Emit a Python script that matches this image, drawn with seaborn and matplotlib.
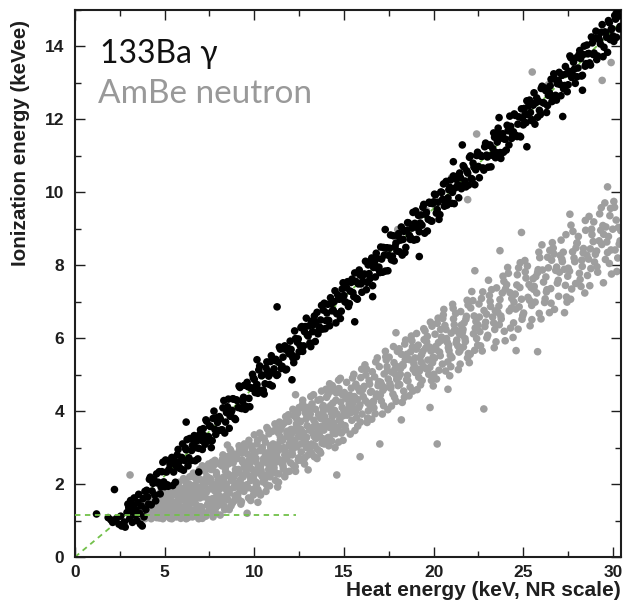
import matplotlib
matplotlib.use("Agg")
import matplotlib.pyplot as plt
import pandas as pd
import seaborn as sns
from matplotlib.ticker import MultipleLocator

# ---------------- data ----------------
# 133Ba gamma band (main body, first pass)
gamma_x = [
    4.0, 4.1, 4.2, 4.3, 4.4, 4.5, 4.6, 4.7, 4.8, 4.9, 5.0, 5.1, 5.2, 5.3, 5.4, 5.5, 5.6, 5.7, 5.8, 5.9,
    6.0, 6.1, 6.2, 6.3, 6.4, 6.5, 6.6, 6.7, 6.8, 6.9, 7.0, 7.1, 7.2, 7.3, 7.4, 7.5, 7.6, 7.7, 7.8, 7.9,
    8.0, 8.1, 8.2, 8.3, 8.4, 8.5, 8.6, 8.7, 8.8, 8.9, 9.0, 9.1, 9.2, 9.3, 9.4, 9.5, 9.6, 9.7, 9.8, 9.9,
    10.0, 10.1, 10.2, 10.3, 10.4, 10.5, 10.6, 10.7, 10.8, 10.9, 11.0, 11.1, 11.2, 11.3, 11.4, 11.5, 11.6, 11.7, 11.8, 11.9,
    12.0, 12.1, 12.2, 12.3, 12.4, 12.5, 12.6, 12.7, 12.8, 12.9, 13.0, 13.1, 13.2, 13.3, 13.4, 13.5, 13.6, 13.7, 13.8, 13.9,
    14.0, 14.1, 14.2, 14.3, 14.4, 14.5, 14.6, 14.7, 14.8, 14.9, 15.0, 15.1, 15.2, 15.3, 15.4, 15.5, 15.6, 15.7, 15.8, 15.9,
    16.0, 16.1, 16.2, 16.3, 16.4, 16.5, 16.6, 16.7, 16.8, 16.9, 17.0, 17.1, 17.2, 17.3, 17.4, 17.5, 17.6, 17.7, 17.8, 17.9,
    18.0, 18.1, 18.2, 18.3, 18.4, 18.5, 18.6, 18.7, 18.8, 18.9, 19.0, 19.1, 19.2, 19.3, 19.4, 19.5, 19.6, 19.7, 19.8, 19.9,
    20.0, 20.1, 20.2, 20.3, 20.4, 20.5, 20.6, 20.7, 20.8, 20.9, 21.0, 21.1, 21.2, 21.3, 21.4, 21.5, 21.6, 21.7, 21.8, 21.9,
    22.0, 22.1, 22.2, 22.3, 22.4, 22.5, 22.6, 22.7, 22.8, 22.9, 23.0, 23.1, 23.2, 23.3, 23.4, 23.5, 23.6, 23.7, 23.8, 23.9,
    24.0, 24.1, 24.2, 24.3, 24.4, 24.5, 24.6, 24.7, 24.8, 24.9, 25.0, 25.1, 25.2, 25.3, 25.4, 25.5, 25.6, 25.7, 25.8, 25.9,
    26.0, 26.1, 26.2, 26.3, 26.4, 26.5, 26.6, 26.7, 26.8, 26.9, 27.0, 27.1, 27.2, 27.3, 27.4, 27.5, 27.6, 27.7, 27.8, 27.9,
    28.0, 28.1, 28.2, 28.3, 28.4, 28.5, 28.6, 28.7, 28.8, 28.9, 29.0, 29.1, 29.2, 29.3, 29.4, 29.5, 29.6, 29.7, 29.8, 29.9,
    30.0, 30.1, 30.2, 30.3, 30.4]
gamma_y = [
    1.83, 1.45, 2.19, 1.81, 2.13, 1.54, 2.03, 2.34, 1.92, 2.60, 1.93, 2.33, 1.94, 2.54, 2.73, 2.33, 2.05, 2.80, 2.60, 2.42,
    3.10, 2.65, 2.94, 2.50, 3.25, 2.92, 3.22, 2.64, 3.19, 2.98, 3.49, 2.95, 3.33, 3.76, 3.18, 3.60, 3.00, 3.80, 3.50, 3.82,
    3.47, 3.79, 3.49, 4.29, 3.70, 4.12, 3.53, 3.96, 4.34, 3.80, 4.31, 4.10, 4.65, 4.07, 4.38, 4.05, 4.79, 4.35, 4.64, 5.01,
    4.87, 4.69, 4.49, 5.24, 4.97, 4.57, 4.75, 5.35, 4.96, 5.36, 4.69, 5.16, 5.42, 5.00, 5.76, 5.17, 5.48, 5.79, 5.15, 5.72,
    5.92, 5.54, 5.33, 5.99, 5.89, 5.63, 6.29, 5.64, 6.18, 6.55, 6.06, 5.87, 6.47, 6.37, 5.91, 6.71, 6.22, 6.50, 6.25, 6.96,
    6.48, 6.93, 6.34, 6.94, 6.77, 7.30, 6.67, 7.08, 6.54, 7.35, 7.17, 6.99, 7.55, 6.95, 7.53, 7.25, 7.79, 7.09, 7.49, 7.73,
    7.26, 7.75, 8.11, 7.53, 7.77, 8.10, 7.44, 8.08, 8.33, 7.91, 7.80, 8.17, 8.49, 7.84, 8.48, 8.27, 8.83, 8.25, 8.12, 8.61,
    8.81, 8.37, 9.05, 8.71, 8.35, 8.96, 9.16, 8.71, 9.02, 8.69, 9.49, 9.03, 8.92, 9.38, 9.59, 8.88, 9.45, 9.26, 9.70, 9.21,
    9.74, 9.93, 9.53, 9.26, 10.01, 9.81, 9.62, 10.30, 9.85, 10.14, 9.70, 10.45, 10.12, 10.43, 9.85, 10.40, 10.18, 10.69, 10.15, 10.53,
    10.96, 10.38, 10.80, 10.21, 11.01, 10.71, 11.02, 10.99, 10.61, 11.35, 10.97, 11.29, 10.70, 11.20, 11.51, 11.09, 11.76, 11.09, 11.49, 11.10,
    11.46, 11.84, 11.30, 11.81, 11.60, 12.15, 11.56, 11.87, 11.54, 12.29, 11.85, 12.14, 12.51, 12.37, 12.19, 11.99, 12.73, 12.46, 12.06, 12.25,
    12.85, 12.46, 12.86, 12.19, 12.66, 12.92, 12.49, 13.25, 12.66, 12.98, 13.29, 12.65, 13.22, 12.93, 13.25, 12.95, 13.74, 13.15, 13.57, 12.99,
    13.17, 13.77, 13.67, 13.21, 14.01, 13.53, 13.80, 13.55, 14.26, 13.78, 14.23, 13.64, 14.24, 14.07, 14.60, 13.98, 14.38, 13.84, 14.65, 14.47,
    14.29, 14.85, 14.25, 14.83, 14.55]

# 133Ba gamma band (second pass, in between)
gamma2_x = [
    4.05, 4.15, 4.25, 4.35, 4.45, 4.55, 4.65, 4.75, 4.85, 4.95, 5.05, 5.15, 5.25, 5.35, 5.45, 5.55, 5.65, 5.75, 5.85, 5.95,
    6.05, 6.15, 6.25, 6.35, 6.45, 6.55, 6.65, 6.75, 6.85, 6.95, 7.05, 7.15, 7.25, 7.35, 7.45, 7.55, 7.65, 7.75, 7.85, 7.95,
    8.05, 8.15, 8.25, 8.35, 8.45, 8.55, 8.65, 8.75, 8.85, 8.95, 9.05, 9.15, 9.25, 9.35, 9.45, 9.55, 9.65, 9.75, 9.85, 9.95,
    10.05, 10.15, 10.25, 10.35, 10.45, 10.55, 10.65, 10.75, 10.85, 10.95, 11.05, 11.15, 11.25, 11.35, 11.45, 11.55, 11.65, 11.75, 11.85, 11.95,
    12.05, 12.15, 12.25, 12.35, 12.45, 12.55, 12.65, 12.75, 12.85, 12.95, 13.05, 13.15, 13.25, 13.35, 13.45, 13.55, 13.65, 13.75, 13.85, 13.95,
    14.05, 14.15, 14.25, 14.35, 14.45, 14.55, 14.65, 14.75, 14.85, 14.95, 15.05, 15.15, 15.25, 15.35, 15.45, 15.55, 15.65, 15.75, 15.85, 15.95,
    16.05, 16.15, 16.25, 16.35, 16.45, 16.55, 16.65, 16.75, 16.85, 16.95, 17.05, 17.15, 17.25, 17.35, 17.45, 17.55, 17.65, 17.75, 17.85, 17.95,
    18.05, 18.15, 18.25, 18.35, 18.45, 18.55, 18.65, 18.75, 18.85, 18.95, 19.05, 19.15, 19.25, 19.35, 19.45, 19.55, 19.65, 19.75, 19.85, 19.95,
    20.05, 20.15, 20.25, 20.35, 20.45, 20.55, 20.65, 20.75, 20.85, 20.95, 21.05, 21.15, 21.25, 21.35, 21.45, 21.55, 21.65, 21.75, 21.85, 21.95,
    22.05, 22.15, 22.25, 22.35, 22.45, 22.55, 22.65, 22.75, 22.85, 22.95, 23.05, 23.15, 23.25, 23.35, 23.45, 23.55, 23.65, 23.75, 23.85, 23.95,
    24.05, 24.15, 24.25, 24.35, 24.45, 24.55, 24.65, 24.75, 24.85, 24.95, 25.05, 25.15, 25.25, 25.35, 25.45, 25.55, 25.65, 25.75, 25.85, 25.95,
    26.05, 26.15, 26.25, 26.35, 26.45, 26.55, 26.65, 26.75, 26.85, 26.95, 27.05, 27.15, 27.25, 27.35, 27.45, 27.55, 27.65, 27.75, 27.85, 27.95,
    28.05, 28.15, 28.25, 28.35, 28.45, 28.55, 28.65, 28.75, 28.85, 28.95, 29.05, 29.15, 29.25, 29.35, 29.45, 29.55, 29.65, 29.75, 29.85, 29.95,
    30.05, 30.15, 30.25, 30.35]
gamma2_y = [
    1.65, 2.13, 1.43, 2.02, 1.70, 2.28, 2.05, 1.73, 2.34, 2.06, 2.66, 1.98, 2.41, 2.63, 1.96, 2.64, 2.49, 2.95, 2.43, 2.73,
    2.38, 2.99, 3.22, 2.72, 2.64, 3.06, 3.33, 3.00, 2.69, 3.36, 3.20, 3.52, 3.09, 3.72, 3.30, 3.58, 3.19, 4.00, 3.36, 3.69,
    3.85, 3.48, 4.09, 3.40, 3.96, 4.33, 3.86, 4.02, 4.33, 3.77, 4.29, 4.69, 4.08, 4.26, 4.71, 4.13, 4.67, 4.12, 4.63, 4.91,
    4.51, 4.73, 5.13, 4.57, 4.99, 4.47, 5.19, 5.10, 4.73, 5.52, 5.05, 5.39, 4.98, 5.34, 5.70, 5.23, 5.71, 5.13, 5.66, 5.57,
    5.69, 5.46, 6.20, 5.49, 5.98, 5.80, 6.32, 5.79, 6.32, 6.10, 6.34, 5.77, 6.18, 6.61, 6.44, 6.12, 6.30, 6.90, 6.77, 6.26,
    6.69, 6.49, 7.11, 6.75, 7.00, 6.42, 7.19, 7.07, 6.74, 7.52, 7.00, 7.38, 6.87, 7.29, 7.62, 7.14, 7.56, 7.07, 7.87, 7.49,
    7.57, 7.76, 7.33, 8.01, 7.63, 8.20, 7.94, 7.68, 8.19, 7.95, 8.50, 7.81, 8.28, 8.47, 7.85, 8.47, 8.15, 8.81, 8.51, 8.39,
    8.87, 8.69, 8.28, 8.93, 8.49, 9.17, 8.82, 8.74, 9.45, 9.15, 8.71, 9.37, 9.16, 9.10, 9.67, 9.40, 8.94, 9.73, 9.22, 9.69,
    9.95, 9.43, 9.73, 9.39, 10.00, 10.23, 9.73, 9.65, 10.07, 10.34, 10.00, 9.69, 10.36, 10.21, 10.53, 10.10, 10.73, 10.31, 10.59, 10.20,
    11.00, 10.36, 10.69, 10.62, 11.10, 10.40, 10.99, 10.67, 11.25, 11.02, 10.69, 11.30, 11.02, 11.63, 10.95, 11.38, 11.60, 10.93, 11.61, 11.46,
    11.16, 11.69, 12.09, 11.48, 11.66, 12.11, 11.53, 12.07, 11.52, 12.03, 12.30, 11.91, 12.13, 12.53, 11.97, 12.39, 11.87, 12.59, 12.50, 12.13,
    12.91, 12.45, 12.79, 12.38, 12.74, 13.10, 12.63, 13.11, 12.53, 13.06, 12.96, 13.21, 12.84, 13.45, 12.76, 13.32, 13.69, 13.22, 13.38, 13.69,
    13.41, 13.89, 13.19, 13.78, 13.46, 14.04, 13.81, 13.49, 14.10, 13.82, 14.42, 13.74, 14.17, 14.39, 13.72, 14.40, 14.25, 14.71, 14.19, 14.49,
    14.14, 14.75, 14.98, 14.48]

# gamma events near threshold
gamma_low_x = [1.2, 1.85, 2.0, 2.1, 2.2, 2.3, 2.45, 2.55, 2.6, 2.75, 2.8, 2.9, 2.95, 3.0, 3.05, 3.1, 3.15,
               3.2, 3.25, 3.3, 3.35, 3.4, 3.45, 3.5, 3.55, 3.6, 3.65, 3.7, 3.75, 3.8, 3.85, 3.9, 3.95]
gamma_low_y = [1.18, 1.08, 1.02, 0.95, 1.85, 1.05, 0.9, 1.12, 0.85, 0.96, 0.82, 1.22, 1.45, 1.35, 1.05, 1.55, 1.25,
               0.95, 1.42, 1.62, 1.15, 1.3, 1.0, 1.5, 1.72, 1.2, 0.9, 1.4, 0.85, 1.6, 1.1, 1.8, 1.3]

# gamma outliers
gamma_out_x = [6.2, 6.9, 10.15, 11.27, 12.1, 15.6, 16.6, 17.3, 19.2, 21.6, 21.1, 23.65, 25.2, 27.2, 28.3]
gamma_out_y = [3.7, 2.33, 5.41, 6.86, 4.86, 6.45, 7.14, 8.98, 8.24, 11.3, 10.84, 12.05, 11.25, 12.08, 12.8]

# AmBe neutron band, low energy part
neutron_low_x = [
    3.05, 3.1, 3.2, 3.25, 3.3, 3.4, 3.45, 3.5, 3.07,
    3.55, 3.6, 3.65, 3.7, 3.75, 3.8, 3.85, 3.9, 3.95, 4.0,
    4.05, 4.1, 4.15, 4.2, 4.25, 4.3, 4.35, 4.4, 4.45, 4.5, 4.2, 4.4,
    4.55, 4.6, 4.65, 4.7, 4.75, 4.8, 4.85, 4.9, 4.95, 5.0, 4.7, 4.9,
    5.05, 5.1, 5.15, 5.2, 5.25, 5.3, 5.35, 5.4, 5.45, 5.5, 5.2, 5.4, 5.3,
    5.55, 5.6, 5.65, 5.7, 5.75, 5.8, 5.85, 5.9, 5.95, 6.0, 5.7, 5.9, 5.6,
    6.05, 6.1, 6.15, 6.2, 6.25, 6.3, 6.35, 6.4, 6.45, 6.5, 6.2, 6.35, 6.1,
    6.55, 6.6, 6.65, 6.7, 6.75, 6.8, 6.85, 6.9, 6.95, 7.0, 6.7, 6.85, 6.6, 6.95,
    7.05, 7.1, 7.15, 7.2, 7.25, 7.3, 7.35, 7.4, 7.45, 7.5, 7.2, 7.35, 7.1, 7.45,
    7.55, 7.6, 7.65, 7.7, 7.75, 7.8, 7.85, 7.9, 7.95, 8.0, 7.7, 7.85, 7.6, 7.95,
    8.05, 8.1, 8.15, 8.2, 8.25, 8.3, 8.35, 8.4, 8.45, 8.5, 8.2, 8.35, 8.15, 8.45, 8.5,
    8.55, 8.6, 8.65, 8.7, 8.75, 8.8, 8.85, 8.9, 8.95, 9.0, 8.7, 8.85, 8.6, 8.95,
    9.05, 9.1, 9.15, 9.2, 9.25, 9.3, 9.35, 9.4, 9.45, 9.5, 9.2, 9.35, 9.1, 9.45,
    9.55, 9.6, 9.65, 9.7, 9.75, 9.8, 9.85, 9.9, 9.95, 10.0, 9.7, 9.8, 9.6, 9.95,
    10.05, 10.1, 10.15, 10.2, 10.25, 10.3, 10.35, 10.4, 10.45, 10.5, 10.2, 10.35, 10.1, 10.45,
    10.55, 10.6, 10.65, 10.7, 10.75, 10.8, 10.85, 10.9, 10.95, 11.0, 10.7, 10.85, 10.6, 10.95,
    11.05, 11.1, 11.15, 11.2, 11.25, 11.3, 11.35, 11.4, 11.45, 11.5, 11.2, 11.35, 11.1, 11.45,
    11.55, 11.6, 11.65, 11.7, 11.75, 11.8, 11.85, 11.9, 11.95, 12.0, 11.7, 11.85, 11.6, 11.95,
    12.05, 12.1, 12.15, 12.2, 12.25, 12.3, 12.35, 12.4, 12.45, 12.5, 12.2, 12.35, 12.1, 12.45, 12.3,
    12.55, 12.6, 12.65, 12.7, 12.75, 12.8, 12.85, 12.9, 12.95, 13.0, 12.7, 12.85, 12.6, 12.95, 13.0,
    13.05, 13.1, 13.15, 13.2, 13.25, 13.3, 13.35, 13.4, 13.45, 13.5, 13.2, 13.35, 13.1,
    13.55, 13.6, 13.65, 13.7, 13.75, 13.8, 13.85, 13.9, 13.95, 14.0, 13.7, 13.85, 13.6,
    14.05, 14.1, 14.15, 14.2, 14.25, 14.3, 14.35, 14.4, 14.45, 14.5, 14.2, 14.35, 14.6,
    14.55, 14.6, 14.65, 14.7, 14.75, 14.8, 14.85, 14.9, 14.95, 15.0, 14.7, 14.85]
neutron_low_y = [
    1.2, 1.1, 1.3, 1.08, 1.18, 1.35, 1.05, 1.25, 2.25,
    1.12, 1.4, 1.06, 1.28, 1.5, 1.15, 1.35, 1.05, 1.45, 1.22,
    1.6, 1.1, 1.35, 1.5, 1.05, 1.25, 1.65, 1.4, 1.12, 1.55, 1.2, 1.3,
    1.08, 1.7, 1.3, 1.45, 1.15, 1.8, 1.6, 1.05, 1.38, 1.7, 1.22, 1.52,
    1.12, 1.85, 1.45, 1.28, 1.62, 1.06, 1.9, 1.35, 1.72, 1.18, 1.55, 1.05, 1.78,
    1.95, 1.42, 1.1, 1.68, 1.28, 2.05, 1.55, 1.06, 1.85, 1.35, 1.9, 1.62, 1.2,
    2.15, 1.15, 1.72, 1.45, 1.95, 1.08, 1.6, 2.2, 1.3, 1.82, 1.05, 2.0, 1.55,
    1.1, 2.3, 1.5, 1.85, 1.22, 2.1, 1.65, 1.05, 2.4, 1.38, 1.98, 1.3, 1.75, 1.9,
    1.8, 2.5, 1.22, 1.95, 2.35, 1.12, 2.05, 1.45, 2.55, 1.3, 1.65, 2.2, 1.06, 1.58,
    2.15, 1.45, 2.6, 1.1, 1.9, 2.65, 1.35, 2.25, 1.72, 2.0, 1.15, 1.55, 2.4, 1.95,
    1.85, 1.15, 2.6, 1.5, 2.8, 2.05, 1.3, 2.35, 1.7, 2.75, 2.5, 2.2, 1.65, 2.0, 3.07,
    2.55, 1.75, 2.95, 1.4, 2.1, 2.65, 1.9, 1.55, 2.3, 2.0, 2.9, 2.2, 1.3, 2.4,
    2.7, 1.6, 3.05, 2.05, 1.45, 2.85, 2.25, 1.95, 3.1, 2.45, 1.85, 2.6, 2.35, 2.5,
    2.3, 1.2, 1.9, 3.2, 2.55, 1.55, 2.75, 2.95, 1.7, 3.35, 2.65, 2.1, 2.45, 2.15,
    2.85, 2.05, 3.1, 1.5, 2.4, 3.4, 1.7, 2.25, 3.0, 2.6, 1.85, 2.5, 2.7, 2.2,
    3.25, 2.15, 1.8, 2.7, 3.5, 2.4, 1.95, 3.05, 2.5, 2.95, 3.55, 2.3, 2.85, 2.75,
    3.1, 2.45, 3.65, 2.3, 2.85, 1.92, 2.05, 3.7, 3.2, 2.65, 2.6, 3.4, 2.95, 3.3,
    3.6, 2.5, 3.0, 2.2, 3.85, 2.7, 3.3, 3.9, 2.35, 3.25, 2.8, 3.45, 2.6, 3.1,
    3.5, 2.9, 4.05, 2.5, 3.2, 2.35, 3.8, 3.45, 2.65, 4.1, 3.0, 3.65, 2.8, 3.3, 4.45,
    3.7, 3.1, 2.65, 4.2, 3.4, 2.55, 3.95, 3.0, 3.6, 2.8, 4.3, 3.15, 3.5, 3.85, 2.39,
    3.85, 2.95, 4.4, 3.1, 3.55, 4.45, 2.75, 3.65, 3.25, 2.7, 4.15, 3.3, 4.0,
    4.3, 3.45, 2.9, 3.8, 4.55, 3.25, 4.0, 3.1, 3.7, 4.6, 2.85, 4.15, 3.4,
    3.6, 4.45, 3.05, 3.25, 4.15, 3.95, 4.7, 3.4, 3.55, 3.0, 4.75, 3.85, 2.25,
    4.3, 3.55, 4.6, 3.15, 3.75, 4.9, 3.4, 4.1, 3.2, 4.0, 4.85, 3.65]

# AmBe neutron band, low energy part (second pass)
neutron2_low_x = [
    3.58, 3.72, 3.81, 3.93, 4.02, 4.08, 4.17, 4.23, 4.31, 4.38, 4.47, 4.52, 4.58, 4.63, 4.71, 4.77, 4.83, 4.88, 4.96,
    5.03, 5.08, 5.13, 5.18, 5.24, 5.29, 5.34, 5.42, 5.47, 5.52, 5.57, 5.63, 5.68, 5.73, 5.78, 5.83, 5.88, 5.93, 5.98,
    6.03, 6.08, 6.13, 6.18, 6.22, 6.27, 6.32, 6.38, 6.42, 6.47, 6.52, 6.58, 6.63, 6.68, 6.72, 6.78, 6.83, 6.88, 6.92, 6.97,
    7.02, 7.07, 7.13, 7.18, 7.23, 7.27, 7.32, 7.38, 7.42, 7.48, 7.53, 7.58, 7.63, 7.67, 7.72, 7.78, 7.83, 7.88, 7.92, 7.97,
    8.02, 8.07, 8.12, 8.18, 8.22, 8.27, 8.32, 8.38, 8.42, 8.48, 8.53, 8.58, 8.62, 8.68, 8.72, 8.78, 8.82, 8.88, 8.92, 8.98,
    9.03, 9.08, 9.12, 9.18, 9.22, 9.28, 9.32, 9.38, 9.42, 9.48, 9.52, 9.58, 9.62, 9.68, 9.72, 9.78, 9.82, 9.88, 9.92, 9.98,
    10.03, 10.08, 10.12, 10.18, 10.22, 10.28, 10.32, 10.38, 10.42, 10.48, 10.52, 10.58, 10.62, 10.68, 10.72, 10.78, 10.82, 10.88, 10.92, 10.98,
    11.03, 11.08, 11.12, 11.18, 11.22, 11.28, 11.32, 11.38, 11.42, 11.48, 11.52, 11.58, 11.62, 11.68, 11.72, 11.78, 11.82, 11.88, 11.92, 11.98,
    12.03, 12.08, 12.12, 12.18, 12.22, 12.28, 12.32, 12.38, 12.42, 12.48, 12.52, 12.58, 12.62, 12.68, 12.72, 12.78, 12.82, 12.88, 12.92, 12.98,
    13.03, 13.08, 13.12, 13.18, 13.22, 13.28, 13.32, 13.38, 13.42, 13.48, 13.52, 13.58, 13.62, 13.68, 13.72, 13.78, 13.82, 13.88, 13.92, 13.98,
    14.03, 14.08, 14.12, 14.18, 14.22, 14.28, 14.32, 14.38, 14.42, 14.48, 14.52, 14.58, 14.62, 14.68, 14.72, 14.78, 14.82, 14.88, 14.92, 14.98]
neutron2_low_y = [
    1.31, 1.18, 1.44, 1.27, 1.09, 1.42, 1.58, 1.31, 1.16, 1.52, 1.36, 1.21, 1.64, 1.47, 1.07, 1.58, 1.33, 1.74, 1.19,
    1.49, 1.66, 1.29, 1.83, 1.12, 1.41, 1.58, 1.24, 1.87, 1.5, 1.33, 1.77, 1.15, 1.52, 1.41, 1.9, 1.24, 1.71, 1.1,
    1.58, 1.88, 1.36, 2.05, 1.62, 1.22, 1.82, 1.44, 1.97, 1.12, 1.67, 1.95, 1.28, 2.18, 1.58, 1.42, 2.25, 1.81, 1.16, 1.62,
    2.12, 1.36, 1.98, 1.7, 2.38, 1.2, 1.77, 2.2, 1.41, 1.86, 2.42, 1.28, 2.02, 1.6, 2.5, 1.82, 1.22, 2.32, 1.71, 2.12,
    1.42, 2.55, 1.94, 1.62, 2.68, 2.18, 1.4, 2.44, 1.86, 2.63, 1.57, 2.26, 1.85, 2.75, 2.12, 1.48, 2.58, 2.05, 1.68, 2.82,
    2.3, 1.72, 2.4, 2.95, 2.12, 1.52, 2.66, 2.2, 1.8, 2.98, 2.4, 1.98, 2.82, 1.62, 2.58, 2.2, 3.05, 2.4, 1.85, 2.9,
    2.28, 2.62, 1.98, 3.2, 2.5, 1.76, 2.92, 2.38, 3.28, 2.06, 2.7, 2.25, 3.15, 1.98, 2.85, 2.55, 3.38, 2.2, 2.98, 2.62,
    3.45, 2.38, 2.88, 2.1, 3.52, 2.72, 3.08, 2.28, 2.95, 3.5, 2.58, 3.2, 2.42, 3.68, 2.92, 2.32, 3.4, 2.78, 3.72, 3.05,
    2.58, 3.38, 2.82, 3.88, 3.12, 2.48, 3.55, 3.02, 3.95, 2.72, 3.3, 3.72, 2.88, 3.42, 4.08, 3.18, 2.72, 3.78, 3.28, 4.1,
    3.0, 3.48, 3.92, 2.85, 4.2, 3.38, 3.75, 3.05, 4.05, 3.55, 2.95, 3.9, 3.35, 4.32, 3.58, 3.12, 4.12, 3.48, 3.85, 3.15,
    4.38, 3.72, 3.28, 4.05, 3.55, 4.55, 3.18, 4.22, 3.68, 4.02, 3.38, 4.5, 3.92, 3.55, 4.62, 3.8, 4.25, 3.42, 4.45, 3.88]

# AmBe neutron band, high energy part (15 - 30.4 keV)
neutron_high_x = [
    15.29, 15.06, 15.41, 15.18, 15.48, 15.11, 15.35, 15.23, 15.02, 15.44, 15.15, 15.38, 15.26, 15.09, 15.32, 15.47,
    15.64, 15.94, 15.51, 15.77, 15.87, 15.70, 15.99, 15.58, 15.83, 15.66, 15.92, 15.75, 15.55, 15.89, 15.80, 15.61,
    16.40, 16.19, 16.32, 16.04, 16.26, 16.46, 16.13, 16.36, 16.22, 16.07, 16.29, 16.48, 16.17, 16.34, 16.01, 16.43,
    16.53, 16.86, 16.62, 16.95, 16.74, 16.58, 16.81, 16.97, 16.67, 16.90, 16.71, 16.55, 16.83, 16.77, 16.93, 16.64,
    17.03, 17.36, 17.12, 17.45, 17.24, 17.08, 17.31, 17.47, 17.17, 17.40, 17.21, 17.05, 17.33, 17.27, 17.43, 17.14,
    17.79, 17.56, 17.91, 17.68, 17.98, 17.61, 17.85, 17.73, 17.52, 17.94, 17.65, 17.88, 17.76, 17.59, 17.82, 17.97,
    18.14, 18.44, 18.01, 18.27, 18.37, 18.20, 18.49, 18.08, 18.33, 18.16, 18.42, 18.25, 18.05, 18.39, 18.30, 18.11,
    18.90, 18.69, 18.82, 18.54, 18.76, 18.96, 18.63, 18.86, 18.72, 18.57, 18.79, 18.98, 18.67, 18.84, 18.51, 18.93,
    19.03, 19.36, 19.12, 19.45, 19.24, 19.08, 19.31, 19.47, 19.17, 19.40, 19.21, 19.05, 19.33, 19.27, 19.43, 19.14,
    19.79, 19.56, 19.91, 19.68, 19.98, 19.61, 19.85, 19.73, 19.52, 19.94, 19.65, 19.88, 19.76, 19.59, 19.82, 19.97,
    20.14, 20.44, 20.01, 20.27, 20.37, 20.20, 20.49, 20.08, 20.33, 20.16, 20.42, 20.25, 20.05, 20.39, 20.30, 20.11,
    20.90, 20.69, 20.82, 20.54, 20.76, 20.96, 20.63, 20.86, 20.72, 20.57, 20.79, 20.98, 20.67, 20.84, 20.51, 20.93,
    21.29, 21.06, 21.41, 21.18, 21.48, 21.11, 21.35, 21.23, 21.02, 21.44, 21.15, 21.38, 21.26, 21.09, 21.32, 21.47,
    21.64, 21.94, 21.51, 21.77, 21.87, 21.70, 21.99, 21.58, 21.83, 21.66, 21.92, 21.75, 21.55, 21.89, 21.80, 21.61,
    22.40, 22.19, 22.32, 22.04, 22.26, 22.46, 22.13, 22.36, 22.22, 22.07, 22.29, 22.48,
    22.53, 22.86, 22.62, 22.95, 22.74, 22.58, 22.81, 22.97, 22.67, 22.90, 22.71, 22.55,
    23.29, 23.06, 23.41, 23.18, 23.48, 23.11, 23.35, 23.23, 23.02, 23.44, 23.15, 23.38,
    23.64, 23.94, 23.51, 23.77, 23.87, 23.70, 23.99, 23.58, 23.83, 23.66, 23.92, 23.75,
    24.26, 24.46, 24.13, 24.36, 24.22, 24.07, 24.29, 24.48, 24.17, 24.34, 24.01, 24.43,
    24.74, 24.58, 24.81, 24.97, 24.67, 24.90, 24.71, 24.55, 24.83, 24.77, 24.93, 24.64,
    25.48, 25.11, 25.35, 25.23, 25.02, 25.44, 25.15, 25.38, 25.26, 25.09, 25.32, 25.47,
    25.87, 25.70, 25.99, 25.58, 25.83, 25.66, 25.92, 25.75, 25.55, 25.89, 25.80, 25.61,
    26.40, 26.19, 26.32, 26.04, 26.26, 26.46, 26.13, 26.36, 26.22, 26.07, 26.29, 26.48,
    26.53, 26.86, 26.62, 26.95, 26.74, 26.58, 26.81, 26.97, 26.67, 26.90, 26.71, 26.55,
    27.29, 27.06, 27.41, 27.18, 27.48, 27.11, 27.35, 27.23, 27.02, 27.44, 27.15, 27.38,
    27.64, 27.94, 27.51, 27.77, 27.87, 27.70, 27.99, 27.58, 27.83, 27.66, 27.92, 27.75,
    28.26, 28.46, 28.13, 28.36, 28.22, 28.07, 28.29, 28.48, 28.17, 28.34, 28.01, 28.43,
    28.74, 28.58, 28.81, 28.97, 28.67, 28.90, 28.71, 28.55, 28.83, 28.77, 28.93, 28.64,
    29.48, 29.11, 29.35, 29.23, 29.02, 29.44, 29.15, 29.38, 29.26, 29.09, 29.32, 29.47,
    29.87, 29.70, 29.99, 29.58, 29.83, 29.66, 29.92, 29.75, 29.55, 29.89, 29.80, 29.61,
    30.12, 30.31, 30.05, 30.40, 30.22, 30.18, 30.44, 30.27, 30.09, 30.35]
neutron_high_y = [
    4.19, 3.60, 4.63, 3.89, 4.91, 4.35, 3.37, 4.05, 4.51, 3.75, 4.79, 3.96, 4.30, 3.49, 4.44, 4.12,
    3.98, 4.92, 4.24, 3.59, 4.55, 3.82, 5.15, 4.40, 4.10, 4.74, 3.70, 4.32, 5.01, 4.17, 4.63, 3.47,
    4.84, 4.29, 3.81, 4.59, 5.15, 4.17, 4.68, 4.01, 4.99, 4.40, 3.69, 4.52, 5.27, 4.22, 3.92, 4.74,
    4.54, 5.46, 4.23, 4.81, 3.93, 5.08, 4.40, 5.22, 4.09, 4.70, 4.94, 3.78, 4.47, 5.35, 4.77, 4.27,
    4.44, 5.40, 4.71, 4.04, 5.02, 4.28, 5.64, 4.88, 4.57, 5.22, 4.15, 4.79, 5.49, 4.64, 5.11, 3.92,
    5.33, 4.76, 4.27, 5.07, 5.64, 4.63, 5.16, 4.47, 5.48, 4.87, 4.14, 5.00, 5.77, 4.69, 4.38, 5.22,
    5.01, 5.95, 4.70, 5.28, 4.38, 5.56, 4.86, 5.71, 4.55, 5.17, 5.41, 4.24, 4.93, 5.84, 5.25, 4.73,
    5.30, 4.66, 5.76, 4.98, 6.06, 5.46, 4.42, 5.15, 5.63, 4.83, 5.93, 5.06, 5.41, 4.55, 5.56, 5.22,
    5.70, 4.84, 5.15, 6.26, 5.47, 4.59, 5.34, 5.96, 4.93, 5.64, 5.10, 6.13, 5.55, 4.72, 5.23, 5.81,
    5.20, 5.73, 6.33, 5.40, 4.69, 5.90, 5.65, 5.01, 6.20, 5.33, 6.05, 4.84, 5.76, 5.16, 6.44, 5.48,
    5.69, 6.03, 5.01, 5.88, 5.52, 6.41, 5.29, 6.11, 5.62, 4.88, 5.94, 6.55, 5.45, 6.24, 5.12, 5.77,
    4.97, 6.24, 5.74, 6.64, 5.89, 5.22, 6.35, 5.66, 5.99, 6.79, 5.35, 6.14, 5.10, 5.81, 6.54, 5.53,
    5.95, 6.93, 5.62, 6.24, 5.29, 6.53, 5.79, 6.68, 5.47, 6.12, 6.37, 5.14, 5.87, 6.82, 6.20, 5.66,
    6.24, 5.58, 6.73, 5.91, 7.04, 6.42, 5.33, 6.09, 6.60, 5.76, 6.91, 5.99, 6.36, 5.46, 6.52, 6.17,
    5.99, 7.03, 6.28, 5.56, 6.61, 5.81, 7.28, 6.46, 6.12, 6.83, 5.67, 6.36,
    6.94, 6.32, 5.79, 6.66, 7.27, 6.18, 6.76, 6.01, 7.09, 6.44, 5.65, 6.58,
    6.58, 7.59, 6.24, 6.87, 5.90, 7.17, 6.42, 7.33, 6.08, 6.75, 7.01, 5.74,
    6.88, 6.19, 7.38, 6.53, 7.70, 7.06, 5.93, 6.71, 7.24, 6.37, 7.56, 6.61,
    7.25, 6.42, 7.94, 7.09, 6.75, 7.47, 6.28, 6.99, 7.78, 6.83, 7.35, 6.02,
    7.93, 6.80, 7.39, 6.62, 7.74, 7.07, 6.25, 7.21, 8.07, 6.86, 6.52, 7.46,
    6.51, 7.82, 7.04, 7.98, 6.69, 7.39, 7.65, 6.34, 7.12, 8.13, 7.47, 6.90,
    8.36, 7.69, 6.53, 7.34, 7.88, 6.99, 8.21, 7.24, 7.63, 6.68, 7.80, 7.42,
    7.93, 6.98, 7.33, 8.56, 7.68, 6.70, 7.54, 8.22, 7.08, 7.87, 7.27, 8.41,
    7.36, 7.95, 8.62, 7.59, 6.79, 8.14, 7.86, 7.15, 8.47, 7.51, 8.31, 6.96,
    7.89, 8.27, 7.13, 8.10, 7.70, 8.69, 7.45, 8.36, 7.81, 6.99, 8.17, 8.84,
    7.07, 8.48, 7.92, 8.93, 8.10, 7.35, 8.61, 7.84, 8.20, 9.10, 7.50, 8.37,
    8.14, 9.23, 7.78, 8.46, 7.42, 8.79, 7.97, 8.96, 7.61, 8.34, 8.61, 7.24,
    8.45, 7.72, 8.99, 8.09, 9.34, 8.65, 7.44, 8.28, 8.84, 7.91, 9.19, 8.17,
    8.85, 7.96, 9.58, 8.67, 8.30, 9.09, 7.81, 8.57, 9.41, 8.39, 8.96, 7.52,
    9.56, 8.35, 8.99, 8.16, 9.36, 8.64, 7.76, 8.79, 9.71, 8.42, 8.05, 9.05,
    8.42, 9.04, 9.75, 8.67, 7.83, 9.24, 8.95, 8.20, 9.59, 8.58]

# AmBe outliers (off the band, incl. a few inside the gamma band)
neutron_out_x = [15.9, 17.0, 17.9, 18.0, 18.2, 19.8, 20.2, 20.8, 22.3, 22.4, 22.8, 23.7, 24.6,
                 24.9, 25.5, 25.8, 27.3, 27.6, 29.4, 29.7, 29.9, 21.0, 21.9, 19.6, 24.2, 26.4]
neutron_out_y = [2.75, 3.1, 6.15, 8.98, 3.76, 4.1, 3.1, 4.6, 7.85, 11.6, 4.06, 8.4, 5.66,
                 8.9, 13.3, 5.63, 6.7, 9.4, 13.07, 10.15, 13.56, 10.4, 9.8, 9.5, 11.8, 12.95]

# guide lines (green dashed)
gamma_guide_x = [0.0, 2.8, 30.45]
gamma_guide_y = [0.0, 1.15, 14.67]
threshold_x = [0.0, 12.3]
threshold_y = [1.15, 1.15]

# labels
label_gamma = "133Ba γ"
label_neutron = "AmBe neutron"
x_label = "Heat energy (keV, NR scale)"
y_label = "Ionization energy (keVee)"

# ---------------- build frames ----------------
gamma_df = pd.DataFrame({
    "heat": gamma_x + gamma2_x + gamma_low_x + gamma_out_x,
    "ion": gamma_y + gamma2_y + gamma_low_y + gamma_out_y,
})
neutron_df = pd.DataFrame({
    "heat": neutron_low_x + neutron2_low_x + neutron_high_x + neutron_out_x,
    "ion": neutron_low_y + neutron2_low_y + neutron_high_y + neutron_out_y,
})
gamma_guide_df = pd.DataFrame({"heat": gamma_guide_x, "ion": gamma_guide_y})
threshold_df = pd.DataFrame({"heat": threshold_x, "ion": threshold_y})

# ---------------- style ----------------
sns.set_style("ticks")
plt.rcParams["font.family"] = ["Liberation Sans", "DejaVu Sans"]

GRAY = "#9e9e9e"
GREEN = "#72c04a"
INK = "#1e1e1e"

fig = plt.figure(figsize=(6.25, 6.04), dpi=100)
ax = fig.add_axes([0.12, 0.0778, 0.8736, 0.9056])

sns.scatterplot(data=neutron_df, x="heat", y="ion", color=GRAY, s=30,
                linewidth=0, edgecolor="none", ax=ax, zorder=2)
sns.lineplot(data=gamma_guide_df, x="heat", y="ion", color=GREEN, lw=1.3,
             linestyle=(0, (3, 2.5)), ax=ax, zorder=2.5, sort=False, estimator=None)
sns.scatterplot(data=gamma_df, x="heat", y="ion", color="black", s=30,
                linewidth=0, edgecolor="none", ax=ax, zorder=3)
sns.lineplot(data=threshold_df, x="heat", y="ion", color=GREEN, lw=1.3,
             linestyle=(0, (3, 2.5)), ax=ax, zorder=4, sort=False, estimator=None)

ax.set_xlim(0, 30.45)
ax.set_ylim(0, 15)

ax.xaxis.set_major_locator(MultipleLocator(5))
ax.xaxis.set_minor_locator(MultipleLocator(2.5))
ax.yaxis.set_major_locator(MultipleLocator(2))
ax.yaxis.set_minor_locator(MultipleLocator(1))

ax.tick_params(which="both", direction="in", top=True, right=True,
               color=INK, width=1.0)
ax.tick_params(which="major", length=7)
ax.tick_params(which="minor", length=4)
ax.tick_params(axis="x", which="major", pad=6)
ax.tick_params(axis="y", which="major", pad=8)
for lab in ax.get_xticklabels() + ax.get_yticklabels():
    lab.set_fontweight("bold")
    lab.set_fontsize(12.5)
    lab.set_color(INK)

for sp in ax.spines.values():
    sp.set_linewidth(1.5)
    sp.set_color(INK)
    sp.set_visible(True)

ax.set_xlabel(x_label, fontsize=15, fontweight="bold", color=INK, loc="right")
ax.xaxis.set_label_coords(1.0, -0.043)
ax.set_ylabel(y_label, fontsize=14.8, fontweight="bold", color=INK, loc="top")
ax.yaxis.set_label_coords(-0.083, 0.982)

ax.text(0.046, 0.903, label_gamma, transform=ax.transAxes, fontsize=23,
        family=["Lato", "DejaVu Sans"], fontweight="normal", color="#111111",
        ha="left", va="baseline")
ax.text(0.042, 0.830, label_neutron, transform=ax.transAxes, fontsize=24,
        family=["Lato", "DejaVu Sans"], fontweight="normal", color="#999999",
        ha="left", va="baseline")

fig.savefig("out.png", dpi=100)
